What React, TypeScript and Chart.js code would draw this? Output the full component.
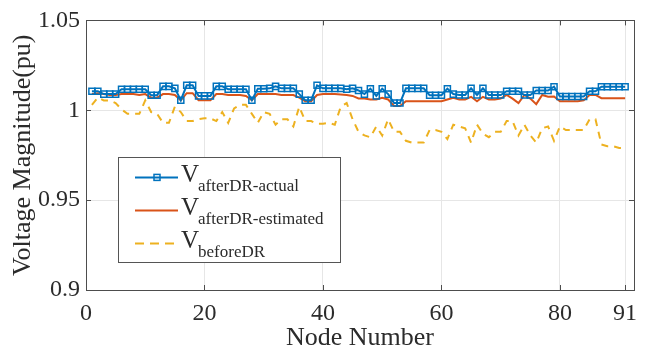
import React, { useEffect, useRef } from "react";
import { Chart, registerables } from "chart.js";

Chart.register(...registerables);

const nodes = [
  1, 2, 3, 4, 5, 6, 7, 8, 9, 10, 11, 12, 13, 14, 15, 16, 17, 18, 19, 20,
  21, 22, 23, 24, 25, 26, 27, 28, 29, 30, 31, 32, 33, 34, 35, 36, 37, 38, 39, 40,
  41, 42, 43, 44, 45, 46, 47, 48, 49, 50, 51, 52, 53, 54, 55, 56, 57, 58, 59, 60,
  61, 62, 63, 64, 65, 66, 67, 68, 69, 70, 71, 72, 73, 74, 75, 76, 77, 78, 79, 80,
  81, 82, 83, 84, 85, 86, 87, 88, 89, 90, 91,
];

const vAfterActual = [
  1.0106, 1.0106, 1.009, 1.009, 1.009, 1.0117, 1.0117, 1.0117, 1.0117, 1.0117,
  1.0084, 1.0084, 1.0133, 1.0133, 1.0122, 1.0056, 1.0139, 1.0139, 1.008, 1.008,
  1.008, 1.0133, 1.0133, 1.0117, 1.0117, 1.0117, 1.0117, 1.0056, 1.012, 1.012,
  1.0122, 1.0133, 1.0122, 1.0122, 1.0122, 1.009, 1.0056, 1.0056, 1.0139, 1.0122,
  1.0122, 1.0122, 1.0122, 1.0117, 1.0122, 1.011, 1.009, 1.012, 1.008, 1.012,
  1.009, 1.004, 1.004, 1.0122, 1.0122, 1.0122, 1.0122, 1.0084, 1.0084, 1.0084,
  1.012, 1.009, 1.0085, 1.0085, 1.0122, 1.0085, 1.0122, 1.0085, 1.0085, 1.0085,
  1.0106, 1.0106, 1.0106, 1.0085, 1.0085, 1.011, 1.011, 1.011, 1.0131, 1.0077,
  1.0077, 1.0077, 1.0077, 1.0077, 1.0106, 1.0106, 1.0131, 1.0131, 1.0131, 1.0131,
  1.0131,
];

const vAfterEstimated = [
  1.009, 1.0095, 1.009, 1.0085, 1.0085, 1.009, 1.009, 1.009, 1.0085, 1.009,
  1.007, 1.007, 1.009, 1.009, 1.0085, 1.0056, 1.0095, 1.0095, 1.0056, 1.0056,
  1.0056, 1.009, 1.009, 1.0085, 1.0085, 1.0085, 1.008, 1.0056, 1.009, 1.009,
  1.009, 1.009, 1.0085, 1.0085, 1.0085, 1.007, 1.005, 1.005, 1.0085, 1.009,
  1.009, 1.009, 1.0088, 1.0085, 1.008, 1.0066, 1.0066, 1.006, 1.006, 1.007,
  1.006, 1.0024, 1.0024, 1.005, 1.005, 1.005, 1.005, 1.005, 1.005, 1.005,
  1.006, 1.007, 1.006, 1.006, 1.0075, 1.005, 1.0075, 1.006, 1.006, 1.0065,
  1.0085, 1.0065, 1.004, 1.0085, 1.0065, 1.0034, 1.0085, 1.0075, 1.0077, 1.005,
  1.005, 1.005, 1.005, 1.0055, 1.0085, 1.0085, 1.0067, 1.0067, 1.0067, 1.0067,
  1.0067,
];

const vBeforeDR = [
  1.003, 1.007, 1.0055, 1.0055, 1.004, 1.0005, 0.998, 0.998, 0.998, 1.0055,
  0.999, 0.998, 0.993, 0.993, 1.002, 0.999, 0.994, 0.994, 0.995, 0.9955,
  0.9955, 0.994, 0.999, 0.993, 1.001, 1.003, 1.003, 0.998, 0.993, 0.999,
  0.998, 0.992, 0.995, 0.995, 0.991, 1.002, 0.994, 0.994, 0.9925, 0.9925,
  0.993, 0.992, 1.002, 1.004, 0.995, 0.988, 0.986, 0.985, 0.991, 0.986,
  0.995, 0.988, 0.988, 0.983, 0.982, 0.982, 0.982, 0.989, 0.989, 0.988,
  0.984, 0.992, 0.991, 0.99, 0.982, 0.992, 0.987, 0.985, 0.988, 0.988,
  0.994, 0.994, 0.986, 0.992, 0.986, 0.982, 0.99, 0.991, 0.983, 0.991,
  0.989, 0.989, 0.989, 0.989, 0.995, 0.995, 0.981, 0.98, 0.98, 0.979,
  0.979,
];

const xTicks = [0, 20, 40, 60, 80, 91];
const xTickLabels = ["0", "20", "40", "60", "80", "91"];
const yTicks = [0.9, 0.95, 1, 1.05];
const yTickLabels = ["0.9", "0.95", "1", "1.05"];

const legendMain = ["V", "V", "V"];
const legendSubs = ["afterDR-actual", "afterDR-estimated", "beforeDR"];

const BLUE = "#0072BD";
const ORANGE = "#D95319";
const YELLOW = "#EDB120";
const AXIS = "#4d4d4d";
const TEXT = "#2b2b2b";
const SERIF = '"Liberation Serif", "Times New Roman", serif';

const boxPlugin = {
  id: "matlabBox",
  afterDraw(chart: any) {
    const { ctx, chartArea } = chart;
    const { left, right, top, bottom } = chartArea;
    const xs = chart.scales.x;
    const ys = chart.scales.y;
    ctx.save();
    ctx.strokeStyle = AXIS;
    ctx.lineWidth = 1;
    ctx.beginPath();
    for (const v of xTicks) {
      const px = Math.round(xs.getPixelForValue(v)) + 0.5;
      ctx.moveTo(px, bottom);
      ctx.lineTo(px, bottom - 5);
      ctx.moveTo(px, top);
      ctx.lineTo(px, top + 5);
    }
    for (const v of yTicks) {
      const py = Math.round(ys.getPixelForValue(v)) + 0.5;
      ctx.moveTo(left, py);
      ctx.lineTo(left + 5, py);
      ctx.moveTo(right, py);
      ctx.lineTo(right - 5, py);
    }
    ctx.stroke();
    ctx.strokeRect(Math.round(left) + 0.5, Math.round(top) + 0.5, Math.round(right - left), Math.round(bottom - top));

    // legend
    const lx = left + 32;
    const ly = top + 137;
    const lw = 222;
    const lh = 105;
    ctx.fillStyle = "#ffffff";
    ctx.fillRect(lx, ly, lw, lh);
    ctx.strokeStyle = "#555555";
    ctx.strokeRect(Math.round(lx) + 0.5, Math.round(ly) + 0.5, lw, lh);
    const colors = [BLUE, ORANGE, YELLOW];
    for (let i = 0; i < 3; i++) {
      const cy = ly + 20 + i * 33;
      ctx.save();
      ctx.strokeStyle = colors[i];
      ctx.lineWidth = 2;
      if (i === 2) ctx.setLineDash([9, 6]);
      ctx.beginPath();
      ctx.moveTo(lx + 17, cy);
      ctx.lineTo(lx + 60, cy);
      ctx.stroke();
      ctx.restore();
      if (i === 0) {
        ctx.save();
        ctx.strokeStyle = BLUE;
        ctx.lineWidth = 1.5;
        ctx.strokeRect(lx + 36, cy - 3, 6, 6);
        ctx.restore();
      }
      ctx.fillStyle = TEXT;
      ctx.textBaseline = "alphabetic";
      ctx.textAlign = "left";
      ctx.font = `25px ${SERIF}`;
      ctx.fillText(legendMain[i], lx + 63, cy + 5);
      const vw = ctx.measureText(legendMain[i]).width;
      ctx.font = `17px ${SERIF}`;
      ctx.fillText(legendSubs[i], lx + 63 + vw - 1, cy + 14);
    }
    ctx.restore();
  },
};

export default function App() {
  const ref = useRef<HTMLCanvasElement | null>(null);

  useEffect(() => {
    if (!ref.current) return;
    const mk = (vals: number[]) => nodes.map((n, i) => ({ x: n, y: vals[i] }));
    const chart = new Chart(ref.current, {
      type: "line",
      data: {
        datasets: [
          {
            label: "V afterDR-actual",
            data: mk(vAfterActual),
            borderColor: BLUE,
            borderWidth: 2,
            pointStyle: "rect",
            pointRadius: 4.3,
            pointBorderWidth: 1.5,
            pointBorderColor: BLUE,
            pointBackgroundColor: "rgba(255,255,255,0)",
            tension: 0,
          },
          {
            label: "V afterDR-estimated",
            data: mk(vAfterEstimated),
            borderColor: ORANGE,
            borderWidth: 2,
            pointRadius: 0,
            tension: 0,
          },
          {
            label: "V beforeDR",
            data: mk(vBeforeDR),
            borderColor: YELLOW,
            borderWidth: 2,
            borderDash: [7, 6],
            pointRadius: 0,
            tension: 0,
          },
        ],
      },
      options: {
        animation: false,
        responsive: false,
        events: [],
        layout: { padding: { top: 16, right: 14, left: 0, bottom: 0 } },
        plugins: { legend: { display: false }, tooltip: { enabled: false } },
        scales: {
          x: {
            type: "linear",
            min: 0,
            max: 92.5,
            afterBuildTicks: (s: any) => {
              s.ticks = xTicks.map((v) => ({ value: v }));
            },
            afterFit: (s: any) => {
              s.height = 64;
            },
            ticks: {
              autoSkip: false,
              maxRotation: 0,
              padding: 9,
              color: TEXT,
              font: { family: SERIF, size: 24 },
              callback: (_v: any, i: number) => xTickLabels[i],
            },
            grid: { color: "#e6e6e6", drawTicks: false },
            border: { display: false },
            title: {
              display: true,
              text: "Node Number",
              color: TEXT,
              font: { family: SERIF, size: 26 },
              padding: { top: 0, bottom: 0 },
            },
          },
          y: {
            type: "linear",
            min: 0.9,
            max: 1.05,
            afterBuildTicks: (s: any) => {
              s.ticks = yTicks.map((v) => ({ value: v }));
            },
            afterFit: (s: any) => {
              s.width = 86;
            },
            ticks: {
              autoSkip: false,
              padding: 6,
              color: TEXT,
              font: { family: SERIF, size: 24 },
              callback: (_v: any, i: number) => yTickLabels[i],
            },
            grid: { color: "#e6e6e6", drawTicks: false },
            border: { display: false },
            title: {
              display: true,
              text: "Voltage Magnitude(pu)",
              color: TEXT,
              font: { family: SERIF, size: 26 },
              padding: { top: 8, bottom: 0 },
            },
          },
        },
      },
      plugins: [boxPlugin],
    });
    return () => chart.destroy();
  }, []);

  return (
    <div style={{ position: "fixed", left: 0, top: 0, width: 648, height: 354, background: "#fff" }}>
      <canvas ref={ref} width={648} height={354} style={{ display: "block" }} />
    </div>
  );
}
